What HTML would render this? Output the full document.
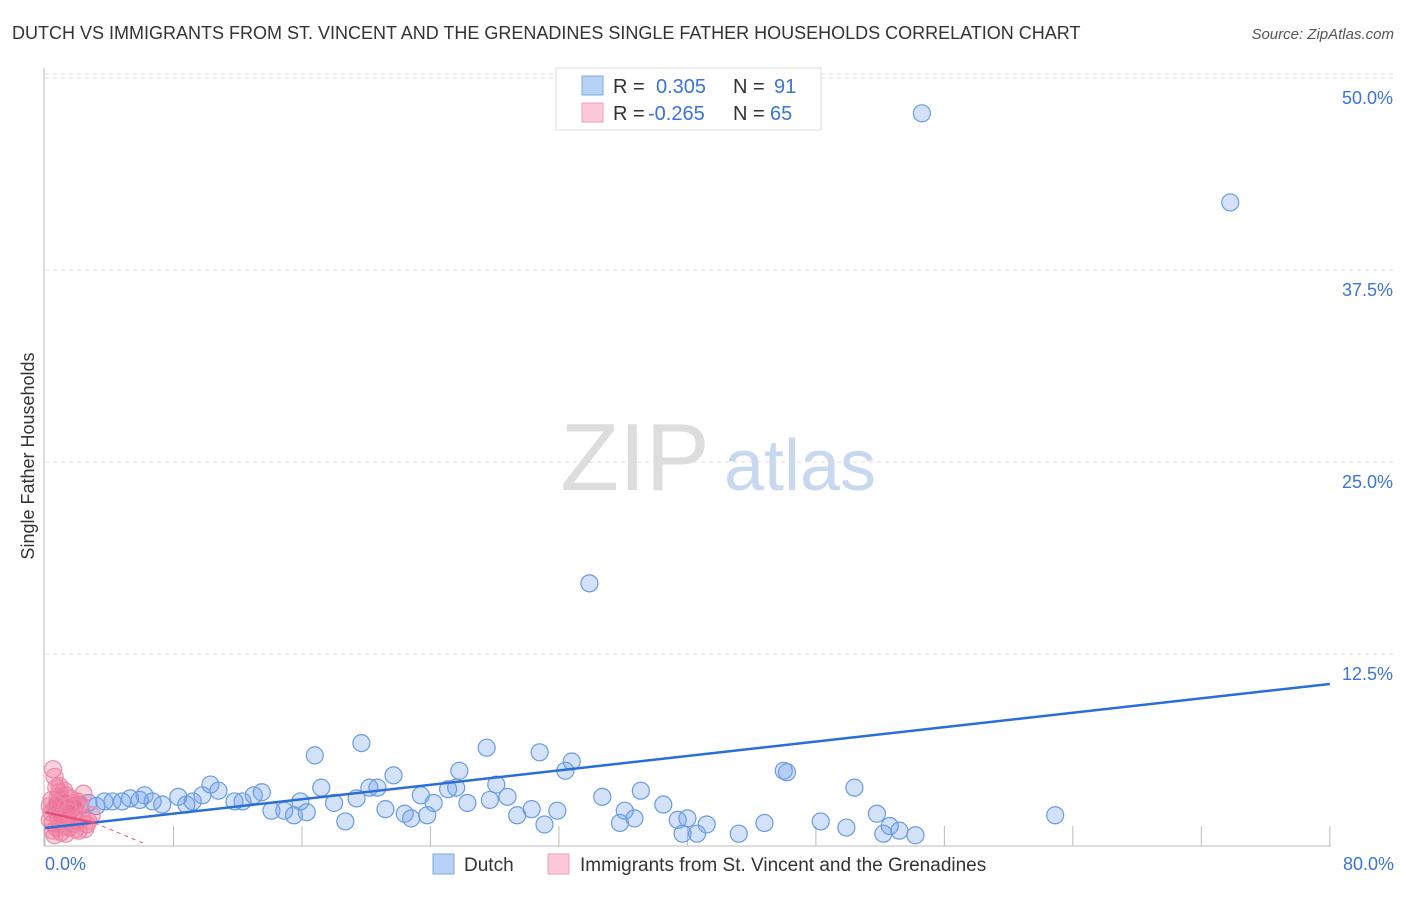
<!DOCTYPE html>
<html><head><meta charset="utf-8"><style>
body{margin:0;background:#fff;font-family:"Liberation Sans",sans-serif}
svg text{font-family:"Liberation Sans",sans-serif}
</style></head><body>
<svg id="c" width="1406" height="892">
<text x="12" y="39" font-size="18" fill="#333">DUTCH VS IMMIGRANTS FROM ST. VINCENT AND THE GRENADINES SINGLE FATHER HOUSEHOLDS CORRELATION CHART</text>
<text x="1394" y="39" font-size="15" fill="#555" font-style="italic" text-anchor="end">Source: ZipAtlas.com</text>
<text x="34" y="456" font-size="18" fill="#333" text-anchor="middle" transform="rotate(-90 34 456)">Single Father Households</text>
<g><text x="635" y="490" font-size="96" fill="#ddd" font-family="Liberation Serif" text-anchor="middle">ZIP</text><text x="800" y="490" font-size="72" fill="#c8d8f0" text-anchor="middle">atlas</text></g>
<g id="grid"></g><g id="axes"></g><g id="pts"></g><g id="lines"></g>
<g>
<rect x="556" y="68" width="265" height="62" fill="#fff" stroke="#ddd"/>
<rect x="582" y="76" width="21" height="19" fill="#b8d2f5" stroke="#7fa8e0"/>
<text x="613" y="93" font-size="20" fill="#333">R =</text><text x="656" y="93" font-size="20" fill="#3b74d4">0.305</text>
<text x="733" y="93" font-size="20" fill="#333">N =</text><text x="774" y="93" font-size="20" fill="#3b74d4">91</text>
<rect x="582" y="103" width="21" height="19" fill="#fbc9d7" stroke="#f0a0b8"/>
<text x="613" y="120" font-size="20" fill="#333">R =</text><text x="648" y="120" font-size="20" fill="#3b74d4">-0.265</text>
<text x="733" y="120" font-size="20" fill="#333">N =</text><text x="770" y="120" font-size="20" fill="#3b74d4">65</text>
</g>
<g>
<rect x="433" y="854" width="21" height="20" fill="#b8d2f5" stroke="#7fa8e0"/>
<text x="464" y="871" font-size="19" fill="#333">Dutch</text>
<rect x="548" y="854" width="21" height="20" fill="#fbc9d7" stroke="#f0a0b8"/>
<text x="580" y="871" font-size="19" fill="#333">Immigrants from St. Vincent and the Grenadines</text>
</g>
</svg>
<script>
const dutchX=[54.6,73.8,33.9,16.8,19.7,27.5,30.8,32.8,32.4,46.0,46.2,50.4,25.8,21.7,20.7,20.2,17.2,10.3,10.8,9.8,28.1,37.1,25.1,25.6,23.4,28.8,27.7,26.3,24.2,19.4,18.0,15.9,13.5,13.0,11.8,12.3,8.3,9.2,8.8,6.2,6.7,7.3,5.3,5.9,4.8,4.2,3.7,3.2,2.7,2.2,1.7,34.7,36.1,38.5,30.3,31.9,21.2,22.4,22.8,23.8,18.7,16.3,15.5,14.9,14.1,29.4,31.1,35.8,36.7,39.4,40.0,41.2,39.7,40.6,43.2,44.8,48.3,49.9,51.8,52.6,52.2,53.2,54.2,62.9,1.1,0.7,0.9];
const dutchY=[47.7,41.9,17.1,5.9,6.7,6.4,6.1,5.5,4.9,4.9,4.8,3.8,4.9,4.6,3.8,3.8,3.8,4.0,3.6,3.3,4.0,3.6,3.7,3.8,3.3,3.2,3.0,2.8,2.8,3.1,2.8,2.9,3.5,3.3,2.9,2.9,3.2,2.9,2.7,3.3,2.9,2.7,3.1,3.0,2.9,2.9,2.9,2.6,2.8,2.6,2.6,3.2,2.3,2.7,2.4,2.3,2.4,2.1,1.8,2.0,1.6,2.2,2.0,2.3,2.3,2.0,1.4,1.5,1.8,1.7,1.8,1.4,0.8,0.8,0.8,1.5,1.6,1.2,2.1,1.3,0.8,1.0,0.7,2.0,2.7,2.6,2.2];
const immX=[0.5,0.6,0.7,0.9,1.0,1.2,1.3,1.5,1.6,1.8,2.0,2.2,2.4,0.4,0.6,0.8,1.1,1.4,1.7,1.9,2.3,2.6,0.5,0.9,1.2,1.5,1.9,2.1,0.3,0.7,1.0,1.3,1.6,2.5,2.7,0.4,0.8,1.1,1.8,2.9,0.6,1.4,0.3,0.5,1.0,1.2,0.7,1.5,2.0,0.9];
const immY=[5.0,4.5,3.8,3.5,3.0,2.8,3.3,2.6,3.1,2.5,2.9,2.7,3.4,2.2,2.4,2.0,2.3,1.9,2.1,2.5,1.8,1.4,1.5,1.6,1.3,1.2,1.1,1.0,1.7,1.2,0.9,0.8,1.4,1.1,1.6,3.0,3.2,2.9,2.8,2.0,0.7,2.6,2.6,1.0,1.8,3.6,2.7,2.2,1.5,3.9];
const yTicks=[12.5,25.0,37.5,50.0];
const xTickVals=[0,8,16,24,32,40,48,56,64,72,80];
const dutchTrend=[1.17,10.55];const immTrend=[2.2,1.5,0.15];
const X=v=>45+v*16.06, Y=v=>846-v*15.36;
const NS='http://www.w3.org/2000/svg';
function mk(t,a,p){const e=document.createElementNS(NS,t);for(const k in a)e.setAttribute(k,a[k]);p.appendChild(e);return e;}
const g=document.getElementById('grid'),ax=document.getElementById('axes'),pts=document.getElementById('pts'),ln=document.getElementById('lines');
yTicks.forEach(v=>{const l=mk('line',{x1:45,x2:1394,y1:Y(v),y2:Y(v),stroke:'#ddd','stroke-dasharray':'4 4'},g);


const t=mk('text',{x:1393,y:Y(v)+26,'font-size':18,fill:'#3b74d4','text-anchor':'end'},g);t.textContent=v.toFixed(1)+'%';

});
const gl=mk('line',{x1:45,x2:1394,y1:Y(50)-4,y2:Y(50)-4,stroke:'#ddd','stroke-dasharray':'4 4'},g);
const yl=mk('line',{x1:44,x2:44,y1:68,y2:846,stroke:'#bbb'},ax);


const xl=mk('line',{x1:44,x2:1331,y1:846,y2:846,stroke:'#bbb'},ax);


xTickVals.forEach(v=>{const l=mk('line',{x1:X(v),x2:X(v),y1:826,y2:846,stroke:'#bbb'},ax);

});
[[0,'start',45],[80,'end',1394]].forEach(([v,a,x])=>{const t=mk('text',{x:x,y:870,'font-size':18,fill:'#3b74d4','text-anchor':a},ax);t.textContent=v.toFixed(1)+'%';

});
dutchX.forEach((v,i)=>{const c=mk('circle',{cx:X(v),cy:Y(dutchY[i]),r:8.5,fill:'rgba(110,160,235,0.3)',stroke:'#6a9be0','stroke-width':1.2},pts);

});
immX.forEach((v,i)=>{const c=mk('circle',{cx:X(v),cy:Y(immY[i]),r:8.5,fill:'rgba(240,110,150,0.3)',stroke:'#ef8aa8','stroke-width':1.2},pts);

});
const dl=mk('line',{x1:X(0),y1:Y(dutchTrend[0]),x2:X(80),y2:Y(dutchTrend[1]),stroke:'#2a6ed8','stroke-width':2.5},ln);


const il=mk('line',{x1:X(0),y1:Y(immTrend[0]),x2:X(3.1),y2:Y(immTrend[1]),stroke:'#e8507c','stroke-width':2.5},ln);


const id=mk('line',{x1:X(3.1),y1:Y(immTrend[1]),x2:X(6.2),y2:Y(immTrend[2]),stroke:'#e8507c','stroke-width':1,'stroke-dasharray':'4 4'},ln);


</script>
</body></html>
